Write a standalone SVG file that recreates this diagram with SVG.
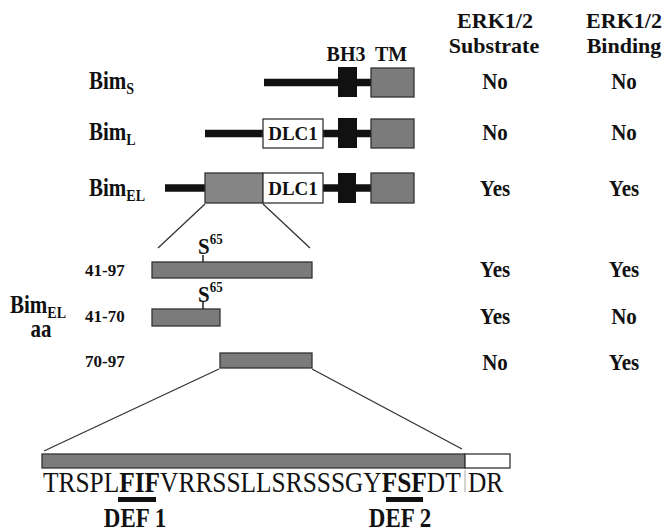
<svg xmlns="http://www.w3.org/2000/svg" width="665" height="531" viewBox="0 0 665 531">
<style>
.b{font-family:"Liberation Serif","Times New Roman",serif;font-weight:bold;fill:#111}
.r{font-family:"Liberation Serif","Times New Roman",serif;fill:#111}
.m{text-anchor:middle}
.ln{stroke:#111;stroke-width:7.5}
.gray{fill:#7b7b7b;stroke:#333;stroke-width:1.3}
.blk{fill:#111}
.wht{fill:#fff;stroke:#333;stroke-width:1.3}
.conn{stroke:#333;stroke-width:1.3;fill:none}
.tick{stroke:#222;stroke-width:1.5}
</style>
<rect width="665" height="531" fill="#fff"/>
<g id="headers">
<text class="b m" x="495" y="28" font-size="22">ERK1/2</text>
<text class="b m" x="494" y="53" font-size="22">Substrate</text>
<text class="b m" x="624" y="28" font-size="22">ERK1/2</text>
<text class="b m" x="624" y="53" font-size="22">Binding</text>
<text class="b m" x="346" y="61" font-size="20">BH3</text>
<text class="b m" x="391" y="61" font-size="20">TM</text>
</g>
<g id="bim-s">
<line class="ln" x1="264" y1="82.5" x2="371" y2="82.5"/>
<rect class="blk" x="338" y="67" width="19" height="30"/>
<rect class="gray" x="371" y="68" width="43" height="29"/>
<text class="b" transform="translate(89,89) scale(1,1.15)" font-size="21">Bim<tspan font-size="14" dy="4">S</tspan></text>
<text class="b m" transform="translate(495,89) scale(1,1.12)" font-size="21">No</text>
<text class="b m" transform="translate(624,89) scale(1,1.12)" font-size="21">No</text>
</g>
<g id="bim-l">
<line class="ln" x1="205" y1="133.5" x2="371" y2="133.5"/>
<rect class="wht" x="263" y="119" width="60" height="29"/>
<text class="b m" x="293" y="140" font-size="19">DLC1</text>
<rect class="blk" x="338" y="118" width="19" height="30"/>
<rect class="gray" x="371" y="119" width="43" height="29"/>
<text class="b" transform="translate(89,140) scale(1,1.15)" font-size="21">Bim<tspan font-size="14" dy="4">L</tspan></text>
<text class="b m" transform="translate(495,140) scale(1,1.12)" font-size="21">No</text>
<text class="b m" transform="translate(624,140) scale(1,1.12)" font-size="21">No</text>
</g>
<g id="bim-el">
<line class="ln" x1="165" y1="188" x2="371" y2="188"/>
<rect class="gray" x="205" y="173" width="58" height="30" style="fill:#858585"/>
<rect class="wht" x="263" y="173" width="60" height="30"/>
<text class="b m" x="293" y="195" font-size="19">DLC1</text>
<rect class="blk" x="338" y="173" width="18" height="30"/>
<rect class="gray" x="371" y="173" width="43" height="30"/>
<text class="b" transform="translate(89,196) scale(1,1.15)" font-size="21">Bim<tspan font-size="14" dy="4">EL</tspan></text>
<text class="b m" transform="translate(495,196) scale(1,1.12)" font-size="21">Yes</text>
<text class="b m" transform="translate(624,196) scale(1,1.12)" font-size="21">Yes</text>
</g>
<g id="frag-label">
<text class="b" transform="translate(10,313) scale(1,1.15)" font-size="21">Bim<tspan font-size="14" dy="4">EL</tspan></text>
<text class="b m" transform="translate(41,337) scale(1,1.15)" font-size="21">aa</text>
</g>
<g id="frag-41-97">
<rect class="gray" x="152" y="262" width="160" height="16"/>
<line class="tick" x1="203" y1="255" x2="203" y2="262"/>
<text class="b" transform="translate(198,254) scale(1,1.12)" font-size="21">S<tspan font-size="13" dy="-9">65</tspan></text>
<text class="b" x="85" y="276" font-size="17">41-97</text>
<text class="b m" transform="translate(495,277) scale(1,1.12)" font-size="21">Yes</text>
<text class="b m" transform="translate(624,277) scale(1,1.12)" font-size="21">Yes</text>
</g>
<g id="frag-41-70">
<rect class="gray" x="152" y="309" width="68" height="17"/>
<line class="tick" x1="203" y1="302" x2="203" y2="309"/>
<text class="b" transform="translate(198,302) scale(1,1.12)" font-size="21">S<tspan font-size="13" dy="-9">65</tspan></text>
<text class="b" x="85" y="322" font-size="17">41-70</text>
<text class="b m" transform="translate(495,324) scale(1,1.12)" font-size="21">Yes</text>
<text class="b m" transform="translate(624,324) scale(1,1.12)" font-size="21">No</text>
</g>
<g id="frag-70-97">
<rect class="gray" x="220" y="353" width="92" height="15"/>
<text class="b" x="85" y="367" font-size="17">70-97</text>
<text class="b m" transform="translate(495,370) scale(1,1.12)" font-size="21">No</text>
<text class="b m" transform="translate(624,370) scale(1,1.12)" font-size="21">Yes</text>
</g>
<g id="connectors">
<line class="conn" x1="205" y1="204" x2="158" y2="248"/>
<line class="conn" x1="263" y1="204" x2="310" y2="248"/>
<line class="conn" x1="219" y1="369" x2="44" y2="451"/>
<line class="conn" x1="312" y1="369" x2="462" y2="449"/>
</g>
<g id="sequence">
<rect class="gray" x="42" y="454" width="423" height="14"/>
<rect class="wht" x="465" y="454" width="45" height="14"/>
<text class="r" transform="translate(43,492) scale(1,1.13)" font-size="25.4">TRSPL<tspan font-weight="bold">FIF</tspan>VRRSSLLSRSSSGY<tspan font-weight="bold">FSF</tspan>DT</text>
<line x1="465" y1="470" x2="465" y2="492" stroke="#aaa" stroke-width="1"/>
<text class="r" transform="translate(468,492) scale(1,1.13)" font-size="25.4">DR</text>
<rect class="blk" x="118" y="497" width="38" height="5"/>
<rect class="blk" x="386" y="497" width="37" height="5"/>
<text class="b m" transform="translate(135,527) scale(1,1.15)" font-size="23">DEF 1</text>
<text class="b m" transform="translate(400,527) scale(1,1.15)" font-size="23">DEF 2</text>
</g>
</svg>
